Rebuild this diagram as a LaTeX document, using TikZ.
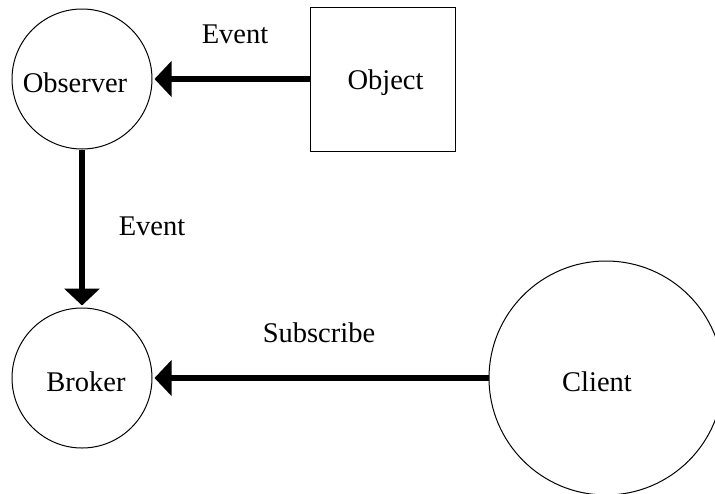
\documentclass[tikz,border=0pt]{standalone}
\usepackage{fontspec}
\setmainfont{Liberation Serif}
\usetikzlibrary{arrows.meta}

\tikzset{
  shapeline/.style={draw=black, line width=1pt, inner sep=0pt, fill=white},
  roundbox/.style={shapeline, circle},
  squarebox/.style={shapeline, rectangle, minimum width=145pt, minimum height=144pt},
  caption/.style={font=\fontsize{28.5}{34}\selectfont, inner sep=0pt},
  inner/.style={caption, yshift=-4pt},
  flow/.style={line width=6.5pt, -{Triangle[length=17pt,width=35pt]}, shorten >=2pt}
}

\begin{document}
\begin{tikzpicture}[x=1pt, y=-1pt]
  \useasboundingbox (0,0) rectangle (715,493);
  \clip (0,0) rectangle (715,493);

  % the four participants
  \node[roundbox, minimum size=140pt,
        label={[inner, xshift=-7pt]center:Observer}] (obs) at (82,79) {};
  \node[squarebox,
        label={[inner, xshift=3pt]center:Object}] (obj) at (382.5,79) {};
  \node[roundbox, minimum size=140pt,
        label={[inner, xshift=4pt]center:Broker}] (brk) at (82,378) {};
  \node[roundbox, minimum size=234pt,
        label={[inner, xshift=-9pt]center:Client}] (cli) at (606,378) {};

  % message flows
  \draw[flow] (obj.west) -- (obs.east);
  \draw[flow] (obs.south) -- (brk.north);
  \draw[flow] (cli.west) -- (brk.east);

  % flow labels
  \node[caption] (ev1) at (235,34) {Event};
  \node[caption] (ev2) at (152,226) {Event};
  \node[caption] (sub) at (319,333) {Subscribe};
\end{tikzpicture}
\end{document}
